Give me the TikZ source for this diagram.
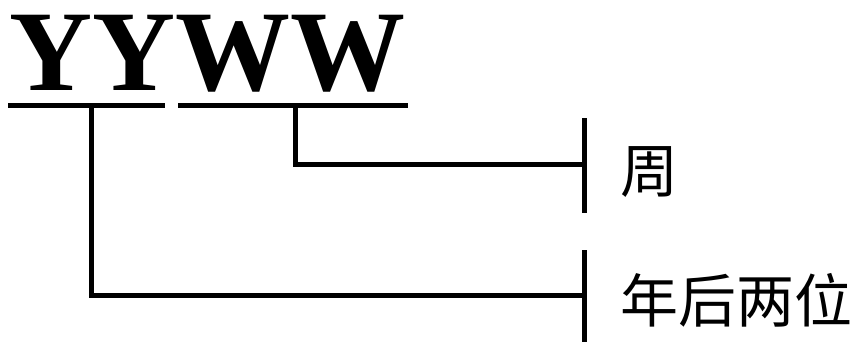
\documentclass[tikz,border=0pt]{standalone}
\usepackage{fontspec}
\setmainfont{Liberation Serif}
\newfontfamily\cjk{Noto Sans CJK SC}
\begin{document}
\begin{tikzpicture}[x=1pt,y=-1pt,
  wire/.style={line width=5pt},
  code/.style={font=\fontsize{115}{115}\selectfont\bfseries, inner sep=0pt, anchor=base west},
  lbl/.style={font=\cjk\fontsize{58}{58}\selectfont, inner sep=0pt, anchor=west}]
\useasboundingbox (0,0) rectangle (862,341);
\node[code] (yyww) at (9,90) {YYWW};
% underlines
\coordinate (u1a) at (8,105);
\coordinate (u1b) at (165,105);
\coordinate (u2a) at (178,105);
\coordinate (u2b) at (408,105);
\draw[wire] (u1a) -- (u1b);
\draw[wire] (u2a) -- (u2b);
% bars
\coordinate (b1t) at (584,118);
\coordinate (b1b) at (584,213);
\coordinate (b2t) at (584,250);
\coordinate (b2b) at (584,343);
\draw[wire] (b1t) -- (b1b);
\draw[wire] (b2t) -- (b2b);
% labels
\node[lbl] (week) at (620,172) {周};
\node[lbl] (year) at (620,300) {年后两位};
% connectors
\coordinate (yyd) at (91,105);
\coordinate (wwd) at (295,105);
\coordinate (e1) at (584,164);
\coordinate (e2) at (584,295);
\draw[wire] (wwd) |- (e1);
\draw[wire] (yyd) |- (e2);
\end{tikzpicture}
\end{document}
